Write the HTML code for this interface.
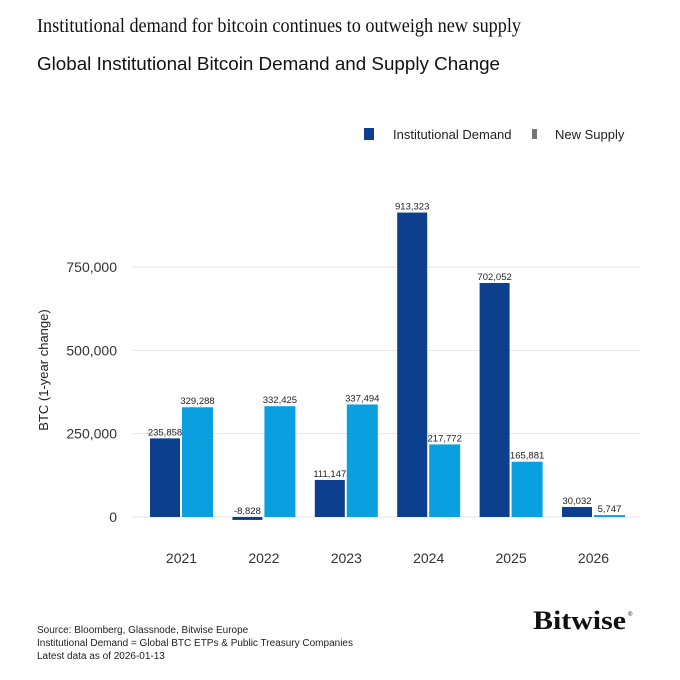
<!DOCTYPE html>
<html><head><meta charset="utf-8"><style>
body{margin:0;background:#fff;width:680px;height:680px;overflow:hidden;font-family:"Liberation Sans",sans-serif}
svg{display:block}
</style></head><body>
<svg id="chart" width="680" height="680">
<text x="37" y="32" font-family="Liberation Serif" font-size="20" fill="#111" textLength="484" lengthAdjust="spacingAndGlyphs">Institutional demand for bitcoin continues to outweigh new supply</text>
<text x="37" y="70" font-size="18.5" fill="#111" textLength="463" lengthAdjust="spacingAndGlyphs">Global Institutional Bitcoin Demand and Supply Change</text>
<rect x="364" y="128" width="10" height="12" fill="#0d3f8f"/>
<text x="393" y="139" font-size="13" fill="#222">Institutional Demand</text>
<rect x="532" y="129" width="5" height="10" fill="#777"/>
<text x="555" y="139" font-size="13" fill="#222">New Supply</text>
<text transform="translate(48,370) rotate(-90)" text-anchor="middle" font-size="13" fill="#222">BTC (1-year change)</text>
<g id="grid"></g><g id="bars"></g>
<text x="37" y="633" font-size="10" fill="#222">Source: Bloomberg, Glassnode, Bitwise Europe</text>
<text x="37" y="646" font-size="10" fill="#222">Institutional Demand = Global BTC ETPs &amp; Public Treasury Companies</text>
<text x="37" y="659" font-size="10" fill="#222">Latest data as of 2026-01-13</text>
<text x="533" y="629" font-family="Liberation Serif" font-size="26" font-weight="bold" fill="#111" textLength="93" lengthAdjust="spacingAndGlyphs">Bitwise</text>
<text x="628" y="616" font-size="6" fill="#111">®</text>
</svg>
<script>
const categories=["2021","2022","2023","2024","2025","2026"];
const demand=[235858,-8828,111147,913323,702052,30032];
const supply=[329288,332425,337494,217772,165881,5747];
const demandLabels=["235,858","-8,828","111,147","913,323","702,052","30,032"];
const supplyLabels=["329,288","332,425","337,494","217,772","165,881","5,747"];
const ticks=[0,250000,500000,750000];
const tickLabels=["0","250,000","500,000","750,000"];
const NS="http://www.w3.org/2000/svg";
const y=v=>517-v*(250/750000);
const xc=i=>181.5+i*82.4;
const grid=document.getElementById('grid'),bars=document.getElementById('bars');
function mk(p,tag,a){const e=document.createElementNS(NS,tag);for(const k in a)e.setAttribute(k,a[k]);p.appendChild(e);return e;}
ticks.forEach((t,i)=>{
 const l=mk(grid,'line',{x1:132,x2:640,y1:y(t),y2:y(t),stroke:'#e6e6e6','stroke-width':1});
 
 
 const tx=mk(grid,'text',{x:117,y:y(t)+5,'text-anchor':'end','font-size':14,fill:'#333'});
 tx.textContent=tickLabels[i];
 
 
});
categories.forEach((c,i)=>{
 const cx=xc(i);
 const d=demand[i],s=supply[i];
 const r1=mk(bars,'rect',{x:cx-31.5,width:30,y:Math.min(y(d),y(0)),height:Math.abs(y(d)-y(0)),fill:'#0d3f8f'});
 
 
 const r2=mk(bars,'rect',{x:cx+0.5,width:31,y:Math.min(y(s),y(0)),height:Math.abs(y(s)-y(0)),fill:'#0aa0e0'});
 
 
 const t1=mk(bars,'text',{x:cx-16.5,y:(d<0?y(0):y(d))-3,'text-anchor':'middle','font-size':9.5,fill:'#222'});
 t1.textContent=demandLabels[i];
 
 
 const t2=mk(bars,'text',{x:cx+16,y:y(s)-3,'text-anchor':'middle','font-size':9.5,fill:'#222'});
 t2.textContent=supplyLabels[i];
 
 
 const xl=mk(bars,'text',{x:cx,y:563,'text-anchor':'middle','font-size':14,fill:'#333'});
 xl.textContent=c;
 
 
});
</script>
</body></html>
